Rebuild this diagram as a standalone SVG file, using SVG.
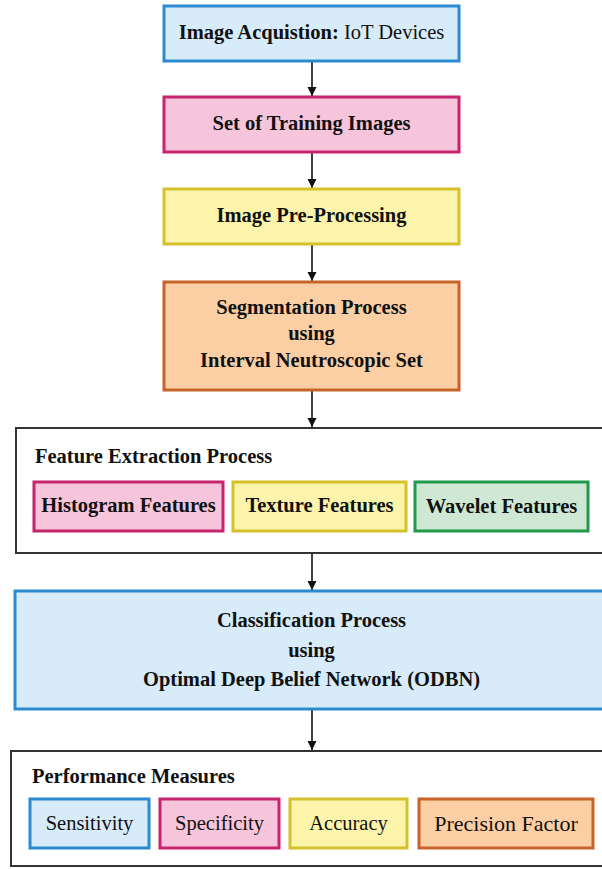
<svg xmlns="http://www.w3.org/2000/svg" width="602" height="869" viewBox="0 0 602 869">
<defs>
<style>
.t{font-family:"Liberation Serif","Times New Roman",serif;font-size:20.5px;fill:#111;}
.b{font-weight:bold;}
.c{text-anchor:middle;}
.blue{fill:#d8ebf8;stroke:#2b8ad0;stroke-width:3;}
.pink{fill:#f6c5dc;stroke:#c6246f;stroke-width:3;}
.yel{fill:#fbf4aa;stroke:#d4c22c;stroke-width:3;}
.org{fill:#fbcfa3;stroke:#c8622b;stroke-width:3;}
.grn{fill:#cfe8d3;stroke:#1f9a4a;stroke-width:3;}
.box{fill:#fff;stroke:#333;stroke-width:2;}
.edge{stroke:#111;stroke-width:1.6;fill:none;marker-end:url(#ah);}
</style>
<marker id="ah" markerWidth="10" markerHeight="10" refX="9" refY="5" orient="auto" markerUnits="userSpaceOnUse">
<path d="M0,0.5 L9,5 L0,9.5 Z" fill="#111"/>
</marker>
</defs>
<rect width="602" height="869" fill="#fff"/>

<g id="connectors">
<line class="edge" x1="312" y1="62" x2="312" y2="96"/>
<line class="edge" x1="312" y1="153" x2="312" y2="188"/>
<line class="edge" x1="312" y1="245" x2="312" y2="281"/>
<line class="edge" x1="312" y1="391" x2="312" y2="427"/>
<line class="edge" x1="312" y1="554" x2="312" y2="590"/>
<line class="edge" x1="312" y1="710" x2="312" y2="750"/>
</g>

<g id="acquisition">
<rect class="blue" x="164" y="6" width="295" height="55"/>
<text class="t c" x="311.5" y="39"><tspan class="b">Image Acquistion:</tspan> IoT Devices</text>
</g>

<g id="training">
<rect class="pink" x="164" y="97" width="295" height="55"/>
<text class="t b c" x="311.5" y="130">Set of Training Images</text>
</g>

<g id="preprocessing">
<rect class="yel" x="164" y="189" width="295" height="55"/>
<text class="t b c" x="311.5" y="222">Image Pre-Processing</text>
</g>

<g id="segmentation">
<rect class="org" x="164" y="282" width="295" height="108"/>
<text class="t b c" x="311.5" y="313.5">Segmentation Process</text>
<text class="t b c" x="311.5" y="340">using</text>
<text class="t b c" x="311.5" y="366.5">Interval Neutroscopic Set</text>
</g>

<g id="feature-extraction">
<rect class="box" x="16" y="428" width="600" height="125"/>
<text class="t b" x="35" y="463">Feature Extraction Process</text>
<g id="histogram">
<rect class="pink" x="34" y="482" width="189" height="49"/>
<text class="t b c" x="128.5" y="512">Histogram Features</text>
</g>
<g id="texture">
<rect class="yel" x="233" y="482" width="173" height="49"/>
<text class="t b c" x="319.5" y="512">Texture Features</text>
</g>
<g id="wavelet">
<rect class="grn" x="415" y="482" width="173" height="49"/>
<text class="t b c" x="501.5" y="513">Wavelet Features</text>
</g>
</g>

<g id="classification">
<rect class="blue" x="15" y="591" width="600" height="118"/>
<text class="t b c" x="311.5" y="627">Classification Process</text>
<text class="t b c" x="311.5" y="657">using</text>
<text class="t b c" x="311.5" y="686">Optimal Deep Belief Network (ODBN)</text>
</g>

<g id="performance">
<rect class="box" x="11" y="751" width="600" height="115"/>
<text class="t b" x="32" y="783">Performance Measures</text>
<g id="sensitivity">
<rect class="blue" x="30" y="799" width="119" height="49"/>
<text class="t c" x="89.5" y="830">Sensitivity</text>
</g>
<g id="specificity">
<rect class="pink" x="160" y="799" width="119" height="49"/>
<text class="t c" x="219.5" y="830">Specificity</text>
</g>
<g id="accuracy">
<rect class="yel" x="290" y="799" width="117" height="49"/>
<text class="t c" x="348.5" y="830">Accuracy</text>
</g>
<g id="precision">
<rect class="org" x="419" y="799" width="174" height="49"/>
<text class="t c" x="506" y="831" style="font-size:22px">Precision Factor</text>
</g>
</g>
</svg>
